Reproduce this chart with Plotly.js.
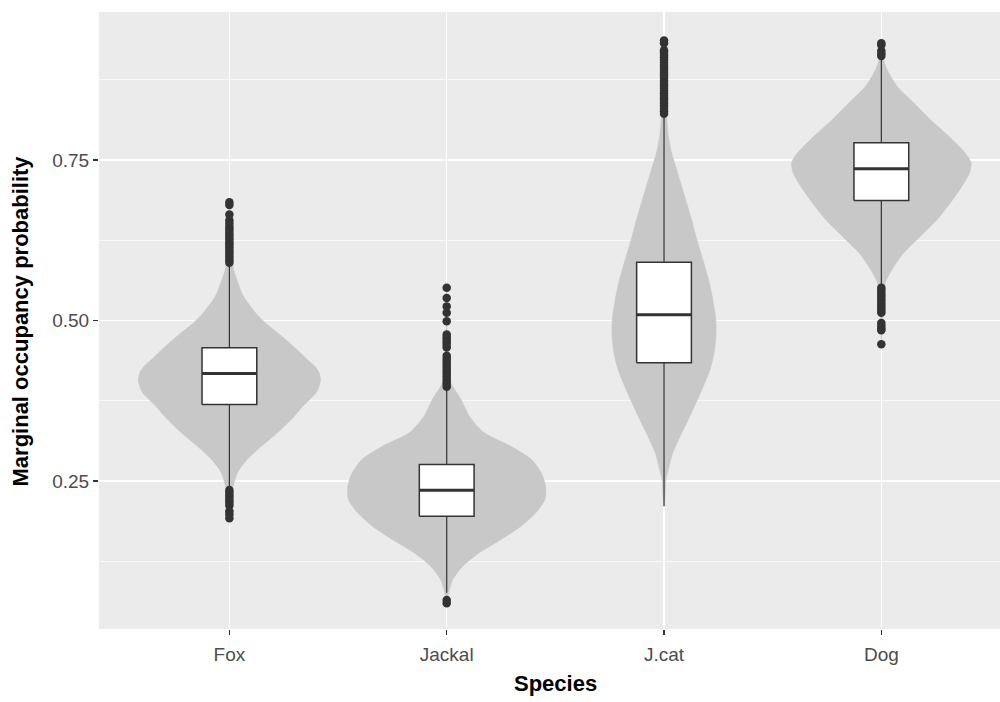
<!DOCTYPE html>
<html>
<head>
<meta charset="utf-8">
<script src="https://cdn.plot.ly/plotly-3.0.1.min.js"></script>
<style>html,body{margin:0;padding:0;background:#fff;}#chart{width:1000px;height:702px;}</style>
</head>
<body>
<div id="chart"></div>
<script>
// ---------- data ----------
const species = ['Fox', 'Jackal', 'J.cat', 'Dog'];

// box statistics
const q1      = [0.369, 0.1952, 0.434, 0.687];
const medians = [0.4175, 0.2357, 0.509, 0.7363];
const q3      = [0.4575, 0.2757, 0.5908, 0.7768];
const whiskLo = [0.242, 0.076, 0.2107, 0.556];
const whiskHi = [0.587, 0.3925, 0.818, 0.909];

// violin outlines: y values and half widths (category units)
const foxVioY  = [0.686, 0.640, 0.600, 0.578, 0.564, 0.538, 0.512, 0.496, 0.476, 0.460, 0.439, 0.429, 0.419, 0.408, 0.398, 0.387, 0.367, 0.346, 0.325, 0.304, 0.284, 0.263, 0.242, 0.220, 0.188];
const foxVioHW = [0.000, 0.003, 0.010, 0.020, 0.034, 0.064, 0.120, 0.166, 0.239, 0.294, 0.359, 0.392, 0.412, 0.419, 0.413, 0.398, 0.340, 0.285, 0.221, 0.147, 0.083, 0.037, 0.018, 0.006, 0.000];

const jacVioY  = [0.553, 0.450, 0.410, 0.403, 0.377, 0.351, 0.325, 0.304, 0.2835, 0.2628, 0.242, 0.2212, 0.2005, 0.1796, 0.1589, 0.1382, 0.1173, 0.0966, 0.076, 0.059];
const jacVioHW = [0.000, 0.003, 0.012, 0.018, 0.066, 0.104, 0.173, 0.296, 0.390, 0.435, 0.455, 0.452, 0.410, 0.342, 0.250, 0.150, 0.074, 0.028, 0.009, 0.000];

const catVioY  = [0.940, 0.850, 0.818, 0.787, 0.761, 0.735, 0.709, 0.683, 0.657, 0.631, 0.6055, 0.5794, 0.5534, 0.5276, 0.5016, 0.4755, 0.4497, 0.4237, 0.3977, 0.3718, 0.3458, 0.3198, 0.2939, 0.2679, 0.2523, 0.230, 0.2107];
const catVioHW = [0.000, 0.005, 0.012, 0.020, 0.035, 0.058, 0.081, 0.104, 0.127, 0.147, 0.169, 0.192, 0.212, 0.227, 0.238, 0.239, 0.230, 0.212, 0.181, 0.147, 0.112, 0.074, 0.040, 0.020, 0.009, 0.005, 0.000];

const dogVioY  = [0.935, 0.909, 0.891, 0.865, 0.839, 0.813, 0.787, 0.761, 0.7456, 0.730, 0.709, 0.683, 0.657, 0.631, 0.6055, 0.5794, 0.5587, 0.520, 0.463];
const dogVioHW = [0.000, 0.008, 0.026, 0.072, 0.149, 0.225, 0.310, 0.386, 0.413, 0.406, 0.371, 0.317, 0.256, 0.179, 0.103, 0.049, 0.018, 0.007, 0.000];

// outliers
const foxOut = [0.590, 0.594, 0.598, 0.602, 0.606, 0.610, 0.614, 0.618, 0.622, 0.626, 0.630, 0.634, 0.638, 0.642, 0.646, 0.651, 0.656, 0.665, 0.680, 0.684,
                0.236, 0.232, 0.228, 0.224, 0.220, 0.216, 0.212, 0.203, 0.198, 0.192];
const jacOut = [0.397, 0.401, 0.405, 0.409, 0.413, 0.417, 0.421, 0.425, 0.429, 0.433, 0.437, 0.441, 0.445, 0.458, 0.462, 0.466, 0.470, 0.474, 0.478, 0.499, 0.512, 0.522, 0.535, 0.551,
                0.0646, 0.0595];
const catOut = [0.822, 0.826, 0.830, 0.834, 0.838, 0.842, 0.846, 0.850, 0.854, 0.858, 0.862, 0.866, 0.870, 0.874, 0.878, 0.882, 0.886, 0.890, 0.894, 0.898, 0.902, 0.906, 0.910, 0.914, 0.918, 0.921, 0.932, 0.936];
const dogOut = [0.912, 0.916, 0.920, 0.929, 0.932,
                0.551, 0.547, 0.543, 0.539, 0.535, 0.531, 0.527, 0.523, 0.519, 0.515, 0.512, 0.496, 0.492, 0.488, 0.485, 0.463];

const tickVals = [0.25, 0.50, 0.75];
const tickText = ['0.25', '0.50', '0.75'];
const minorVals = [0.125, 0.375, 0.625, 0.875];

// ---------- styling ----------
const BOX_HALF = 0.126;
const DARK = '#333333';
const FONT = 'Liberation Sans, Arial, sans-serif';

const violins = [[foxVioY, foxVioHW], [jacVioY, jacVioHW], [catVioY, catVioHW], [dogVioY, dogVioHW]];
const outliers = [foxOut, jacOut, catOut, dogOut];

const traces = [];

// violins
violins.forEach(([vy, hw], i) => {
  const xs = vy.map((y, k) => i + hw[k]).concat(vy.slice().reverse().map((y, k) => i - hw[hw.length - 1 - k]));
  const ys = vy.concat(vy.slice().reverse());
  traces.push({
    type: 'scatter', mode: 'lines', x: xs, y: ys,
    fill: 'toself', fillcolor: '#C8C8C8',
    line: {color: '#C8C8C8', width: 0.6, shape: 'spline', smoothing: 0.7},
    hoverinfo: 'skip', showlegend: false
  });
});

// whiskers
species.forEach((s, i) => {
  traces.push({
    type: 'scatter', mode: 'lines',
    x: [i, i, null, i, i], y: [q3[i], whiskHi[i], null, q1[i], whiskLo[i]],
    line: {color: DARK, width: 1.2}, hoverinfo: 'skip', showlegend: false
  });
});

// outliers
outliers.forEach((vals, i) => {
  traces.push({
    type: 'scatter', mode: 'markers',
    x: vals.map(() => i), y: vals,
    marker: {color: DARK, size: 8.5, line: {width: 0}},
    hoverinfo: 'skip', showlegend: false
  });
});

// boxes
species.forEach((s, i) => {
  traces.push({
    type: 'scatter', mode: 'lines',
    x: [i - BOX_HALF, i + BOX_HALF, i + BOX_HALF, i - BOX_HALF, i - BOX_HALF],
    y: [q1[i], q1[i], q3[i], q3[i], q1[i]],
    fill: 'toself', fillcolor: '#FFFFFF',
    line: {color: DARK, width: 1.5}, hoverinfo: 'skip', showlegend: false
  });
  traces.push({
    type: 'scatter', mode: 'lines',
    x: [i - BOX_HALF, i + BOX_HALF], y: [medians[i], medians[i]],
    line: {color: DARK, width: 3}, hoverinfo: 'skip', showlegend: false
  });
});

const layout = {
  width: 1000, height: 702,
  margin: {l: 99, r: 0, t: 12, b: 73, pad: 0},
  paper_bgcolor: '#FFFFFF', plot_bgcolor: '#EBEBEB',
  showlegend: false, hovermode: false,
  font: {family: FONT, color: '#4D4D4D'},
  xaxis: {
    range: [-0.6, 3.546],
    tickmode: 'array', tickvals: [0, 1, 2, 3], ticktext: species,
    showgrid: true, gridcolor: '#FFFFFF', gridwidth: 1.4,
    zeroline: false, showline: false,
    ticks: 'outside', ticklen: 5, tickwidth: 1.1, tickcolor: DARK,
    ticklabelstandoff: 3,
    tickfont: {family: FONT, size: 19, color: '#4D4D4D'},
    fixedrange: true
  },
  yaxis: {
    range: [0.0195, 0.9805],
    tickmode: 'array', tickvals: tickVals, ticktext: tickText,
    showgrid: true, gridcolor: '#FFFFFF', gridwidth: 1.4,
    minor: {tickmode: 'array', tickvals: minorVals, showgrid: true, gridcolor: '#FFFFFF', gridwidth: 0.7, ticklen: 0},
    zeroline: false, showline: false,
    ticks: 'outside', ticklen: 5, tickwidth: 1.1, tickcolor: DARK,
    tickfont: {family: FONT, size: 19, color: '#4D4D4D'},
    fixedrange: true
  },
  annotations: [
    {text: '<b>Species</b>', xref: 'x', yref: 'paper', x: 1.5, y: -0.0891,
     xanchor: 'center', yanchor: 'middle', showarrow: false,
     font: {family: FONT, size: 22, color: '#000000'}},
    {text: '<b>Marginal occupancy probability</b>', xref: 'paper', yref: 'paper',
     x: -0.0866, y: 0.5, xanchor: 'center', yanchor: 'middle', textangle: -90, showarrow: false,
     font: {family: FONT, size: 22, color: '#000000'}}
  ]
};

Plotly.newPlot('chart', traces, layout, {displayModeBar: false, staticPlot: true});
</script>
</body>
</html>
